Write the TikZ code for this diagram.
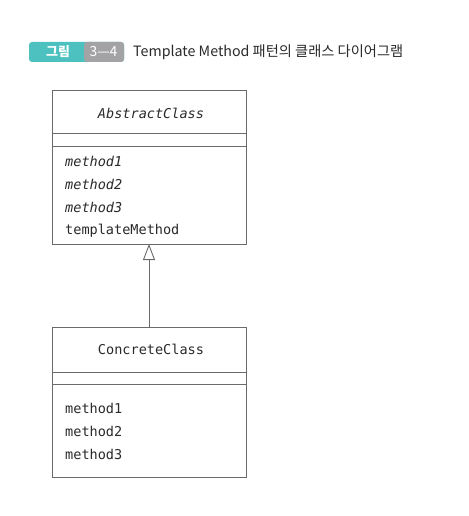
\documentclass[tikz,border=0pt]{standalone}
\usepackage{fontspec}
\setmonofont{DejaVu Sans Mono}
\newfontfamily\krfont{Noto Sans CJK KR}
\usetikzlibrary{arrows.meta}
\definecolor{badgeteal}{HTML}{4DC1C0}
\definecolor{badgegray}{HTML}{A3A3A5}
\definecolor{linegray}{HTML}{6A6A6A}
\definecolor{txt}{HTML}{2A2A2A}
\tikzset{
  umlbox/.style={draw=linegray, line width=0.9bp},
  member/.style={anchor=west, inner sep=0pt, font=\ttfamily\fontsize{13.6}{15}\selectfont, text=txt},
  membit/.style={member, font=\ttfamily\itshape\fontsize{13.6}{15}\selectfont},
  cname/.style={inner sep=0pt, font=\ttfamily\fontsize{13.6}{15}\selectfont, text=txt},
}
\begin{document}
\begin{tikzpicture}[x=1bp,y=-1bp]
\useasboundingbox[fill=white] (0,0) rectangle (469,516);
% caption badge
\fill[badgeteal, rounded corners=3bp] (29,42) rectangle (124,62);
\fill[badgegray, rounded corners=3bp] (84,42) rectangle (124,62);
\fill[badgeteal] (80,42) rectangle (84,62);
\node[inner sep=0pt, text=white, font=\krfont\bfseries\fontsize{13}{14}\selectfont] (fig) at (58,52) {그림};
\node[inner sep=0pt, text=white, font=\krfont\fontsize{14}{15}\selectfont] (num) at (103.5,52) {3—4};
\node[anchor=west, inner sep=0pt, text=txt, font=\krfont\fontsize{14.3}{16}\selectfont] (cap) at (133,52) {Template Method 패턴의 클래스 다이어그램};
% AbstractClass
\draw[umlbox] (52,90) rectangle (246,244);
\draw[umlbox] (52,133) -- (246,133);
\draw[umlbox] (52,146) -- (246,146);
\node[cname, font=\ttfamily\itshape\fontsize{13.6}{15}\selectfont] (abs) at (151,113) {AbstractClass};
\node[membit] (am1) at (65,161) {method1};
\node[membit] (am2) at (65,184) {method2};
\node[membit] (am3) at (65,207) {method3};
\node[member] (atm) at (65,231) {templateMethod};
\coordinate (absbot) at (149,244);
% ConcreteClass
\draw[umlbox] (52,327) rectangle (246,477);
\draw[umlbox] (52,372) -- (246,372);
\draw[umlbox] (52,384) -- (246,384);
\node[cname] (con) at (151,349) {ConcreteClass};
\node[member] (cm1) at (65,408) {method1};
\node[member] (cm2) at (65,431) {method2};
\node[member] (cm3) at (65,454) {method3};
\coordinate (contop) at (149,327);
% inheritance
\draw[draw=linegray, line width=0.9bp, -{Triangle[open, length=16bp, width=12bp]}] (contop) -- (absbot);
\end{tikzpicture}
\end{document}
